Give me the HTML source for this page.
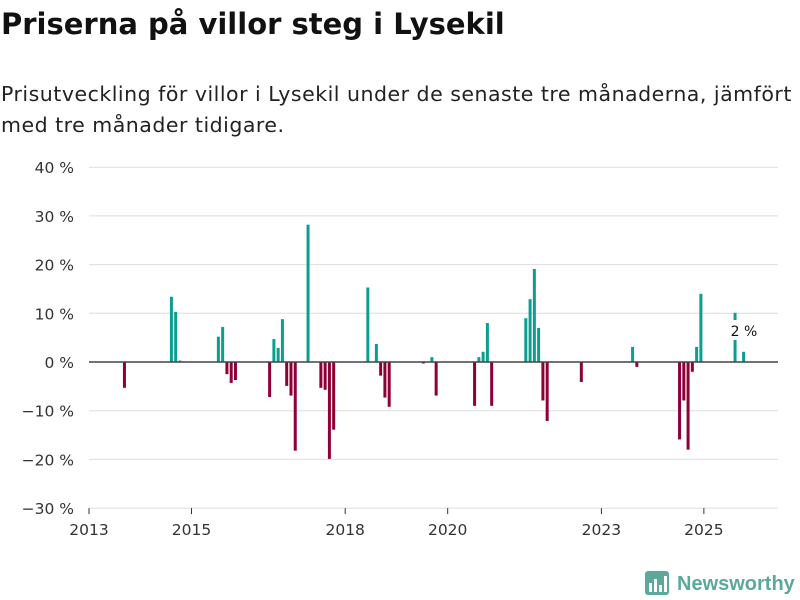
<!DOCTYPE html>
<html><head><meta charset="utf-8"><style>
body{margin:0;width:800px;height:600px;background:#fff;font-family:"DejaVu Sans","Liberation Sans",sans-serif;overflow:hidden;position:relative}
h1{position:absolute;left:1px;top:7px;margin:0;font-size:29px;font-weight:bold;color:#111;letter-spacing:0px;white-space:nowrap}
p{position:absolute;left:1px;top:79px;margin:0;font-size:20.5px;letter-spacing:0.5px;line-height:31px;color:#222;width:800px;white-space:nowrap}
svg{position:absolute;left:0;top:0}
</style></head><body>
<h1>Priserna på villor steg i Lysekil</h1>
<p>Prisutveckling för villor i Lysekil under de senaste tre månaderna, jämfört<br>med tre månader tidigare.</p>
<svg id="c" width="800" height="600"></svg>
<script>
const months=[8,19,20,21,30,31,32,33,34,42,43,44,45,46,47,48,51,54,55,56,57,65,67,68,69,70,78,80,81,90,91,92,93,94,102,103,104,105,106,107,115,127,128,138,139,140,141,142,143,151,153];
const values=[-5.3,13.4,10.3,0.3,5.2,7.2,-2.5,-4.3,-3.7,-7.2,4.7,2.9,8.8,-4.9,-6.9,-18.2,28.2,-5.3,-5.7,-19.9,-13.9,15.3,3.7,-2.8,-7.3,-9.2,-0.3,1.0,-6.9,-9.0,1.0,2.1,8.0,-9.0,9.0,12.9,19.1,7.0,-7.9,-12.1,-4.1,3.1,-1.0,-15.9,-7.9,-18.0,-2.0,3.1,14.0,10.1,2.1];
const yTicks=[40,30,20,10,0,-10,-20,-30];
const xTickMonths=[0,24,60,84,120,144];
const xTickLabels=["2013","2015","2018","2020","2023","2025"];
const NS="http://www.w3.org/2000/svg";
const svg=document.getElementById('c');
const X=m=>89+(m+0.3)*4.27;
const Y=v=>362-v*4.87;
function mk(t,a,txt){const e=document.createElementNS(NS,t);for(const k in a)e.setAttribute(k,a[k]);if(txt!==undefined)e.textContent=txt;svg.appendChild(e);return e;}
yTicks.forEach(v=>{
  if(v!==0&&v!==-30){const g=mk('line',{x1:89,x2:778,y1:Y(v),y2:Y(v),stroke:'#dedede','stroke-width':1});
  
  }
  const t=mk('text',{x:74,y:Y(v)+6,'text-anchor':'end','font-size':15.5,fill:'#333'},(v<0?'−'+(-v):v)+' %');
  
  
});
const ax=mk('line',{x1:89,x2:778,y1:Y(-30),y2:Y(-30),stroke:'#dedede','stroke-width':1});


xTickMonths.forEach((m,i)=>{
  const x=89+m*4.27;
  const tk=mk('line',{x1:x,x2:x,y1:Y(-30),y2:Y(-30)+6,stroke:'#333','stroke-width':1});
  
  
  const t=mk('text',{x:x,y:535,'text-anchor':'middle','font-size':15.5,fill:'#333'},xTickLabels[i]);
  
  
});
months.forEach((m,i)=>{
  const v=values[i];const y0=Y(0),y1=Y(v);
  const r=mk('rect',{x:X(m)-1.5,y:Math.min(y0,y1),width:3,height:Math.max(0.8,Math.abs(y1-y0)),fill:v>=0?'#0d9e91':'#8f0037'});
  
  
});
const z=mk('line',{x1:89,x2:778,y1:Y(0),y2:Y(0),stroke:'#444','stroke-width':1.6});


const lb=mk('rect',{x:729,y:320,width:30,height:20,fill:'#fff'});


const lt=mk('text',{x:744,y:336,'text-anchor':'middle','font-size':14,fill:'#111'},values[values.length-1].toFixed(0)+' %');


</script>
<svg width="800" height="600" style="pointer-events:none">
<rect x="645" y="571" width="24" height="24" rx="3" fill="#5aa99b"/>
<rect x="649" y="583" width="3" height="9" fill="#fff"/><rect x="654" y="579" width="3" height="13" fill="#fff"/><rect x="659" y="585" width="3" height="7" fill="#fff"/><rect x="664" y="576" width="3" height="16" fill="#fff"/>
<text x="677" y="590" font-size="20" font-weight="bold" fill="#5aa99b" font-family="Liberation Sans, sans-serif">Newsworthy</text>
</svg>
</body></html>
